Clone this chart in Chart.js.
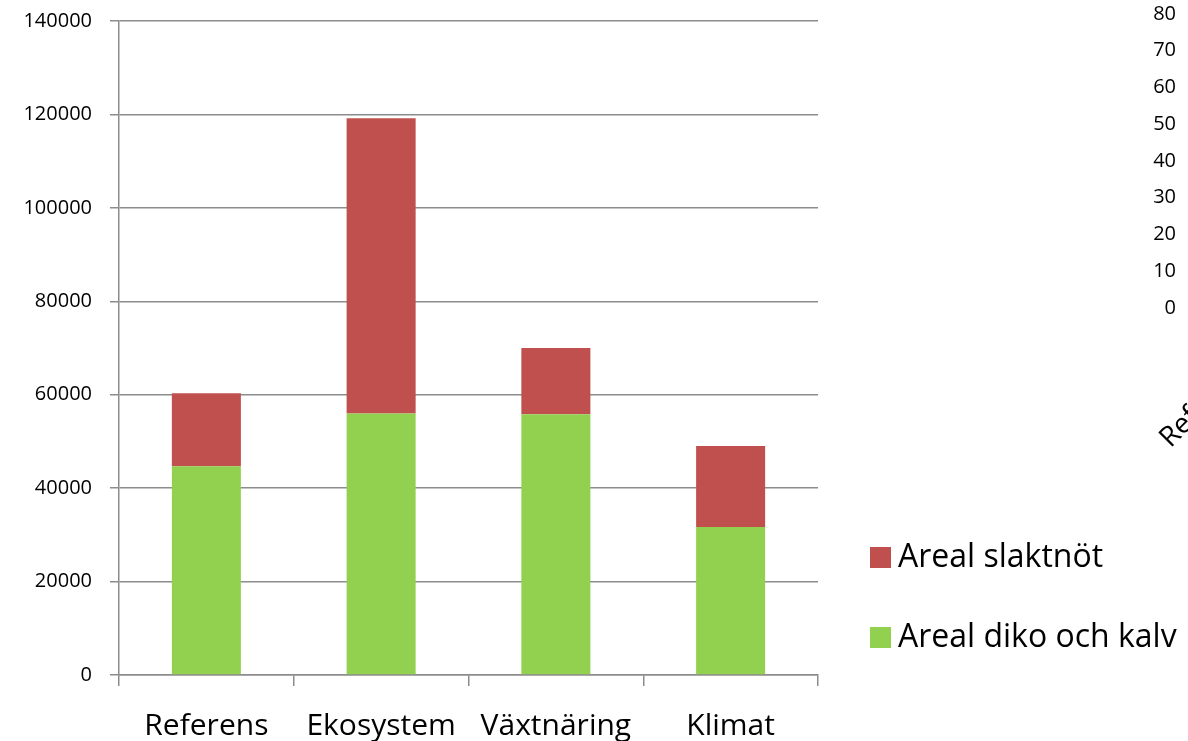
<!DOCTYPE html>
<html>
<head>
<meta charset="utf-8">
<script src="https://cdn.jsdelivr.net/npm/chart.js@4/dist/chart.umd.min.js"></script>
<style>
  html, body { margin: 0; padding: 0; background: #fff; width: 1188px; height: 741px; overflow: hidden; }
  #wrap { position: relative; width: 1188px; height: 741px; overflow: hidden; }
  #main { position: absolute; left: 0; top: 0; }
  #side { position: absolute; left: 1100px; top: 0; }
  .leg { position: absolute; left: 870px; font-family: "Open Sans", sans-serif; font-size: 32px; color: #000; white-space: nowrap; }
  .leg span.box { position: absolute; left: 0; width: 21px; height: 21px; }
  .leg span.txt { position: absolute; left: 28px; line-height: 1; }
</style>
</head>
<body>
<div id="wrap">
  <canvas id="main" width="1188" height="741"></canvas>
  <canvas id="side" width="530" height="741"></canvas>
  <div id="legend"></div>
</div>
<script>
// Scenarios and areas (ha)
const categories = ['Referens', 'Ekosystem', 'Växtnäring', 'Klimat'];
const arealDikoOchKalv = [44700, 56000, 55800, 31700];
const arealSlaktnot = [15600, 63200, 14200, 17300];
const seriesNames = ['Areal diko och kalv', 'Areal slaktnöt'];
const seriesColors = ['#92D050', '#C0504D'];

// Neighbouring chart: axis only
const sideCategories = ['Referens', 'Ekosystem', 'Växtnäring', 'Klimat'];
const sideTicks = { min: 0, max: 80, step: 10 };

const FONT = '"Open Sans", sans-serif';
const GRID = '#8c8c8c';
const plain = v => String(v);

// Fixed axis sizes, with no extra room reserved for overhanging labels
const fixWidth = w => s => { s.width = w; s.paddingTop = 0; s.paddingBottom = 0; };
const fixHeight = h => s => { s.height = h; s.paddingLeft = 0; s.paddingRight = 0; };

new Chart(document.getElementById('main'), {
  type: 'bar',
  data: {
    labels: categories,
    datasets: [
      { label: seriesNames[0], data: arealDikoOchKalv, backgroundColor: seriesColors[0], borderWidth: 0 },
      { label: seriesNames[1], data: arealSlaktnot, backgroundColor: seriesColors[1], borderWidth: 0 }
    ]
  },
  options: {
    responsive: false,
    devicePixelRatio: 1,
    animation: false,
    layout: { padding: { top: 21, right: 370, left: 0, bottom: 0 } },
    plugins: { legend: { display: false }, tooltip: { enabled: false } },
    datasets: { bar: { categoryPercentage: 1, barPercentage: 0.395 } },
    scales: {
      x: {
        stacked: true,
        offset: true,
        afterFit: fixHeight(66),
        grid: { offset: true, drawOnChartArea: false, drawTicks: true, tickLength: 11, color: GRID, lineWidth: 1.5 },
        border: { color: GRID, width: 1.5 },
        ticks: { color: '#000', font: { family: FONT, size: 30 }, padding: 22, maxRotation: 0, autoSkip: false }
      },
      y: {
        stacked: true,
        min: 0, max: 140000,
        afterFit: fixWidth(119),
        grid: { color: GRID, lineWidth: 1.5, drawTicks: true, tickLength: 9 },
        border: { color: GRID, width: 1.5 },
        ticks: { stepSize: 20000, color: '#000', font: { family: FONT, size: 20 }, padding: 18, callback: plain }
      }
    }
  }
});

new Chart(document.getElementById('side'), {
  type: 'bar',
  data: { labels: sideCategories, datasets: [] },
  options: {
    responsive: false,
    devicePixelRatio: 1,
    animation: false,
    layout: { padding: { top: 14, right: 0, left: 0, bottom: 0 } },
    plugins: { legend: { display: false }, tooltip: { enabled: false } },
    scales: {
      x: {
        afterFit: fixHeight(741 - 308),
        grid: { display: false },
        border: { display: false },
        ticks: { color: '#000', font: { family: FONT, size: 28 }, minRotation: 45, maxRotation: 45, padding: 33, autoSkip: false }
      },
      y: {
        min: sideTicks.min, max: sideTicks.max,
        afterFit: fixWidth(92),
        grid: { display: false },
        border: { display: false },
        ticks: { stepSize: sideTicks.step, color: '#000', font: { family: FONT, size: 20 }, padding: 8, callback: plain }
      }
    }
  }
});

// Legend, top entry is the upper stack segment
const legend = document.getElementById('legend');
const legendOrder = [1, 0];
const legendTops = [547, 627];
legendOrder.forEach((i, k) => {
  const item = document.createElement('div');
  item.className = 'leg';
  item.style.top = legendTops[k] + 'px';
  const box = document.createElement('span');
  box.className = 'box';
  box.style.background = seriesColors[i];
  const txt = document.createElement('span');
  txt.className = 'txt';
  txt.style.top = '-8px';
  txt.textContent = seriesNames[i];
  item.appendChild(box);
  item.appendChild(txt);
  legend.appendChild(item);
});
</script>
</body>
</html>
